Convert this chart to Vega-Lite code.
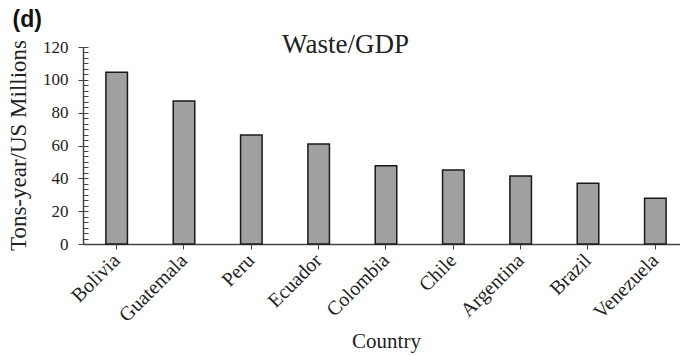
{
  "$schema": "https://vega.github.io/schema/vega-lite/v6.json",
  "autosize": "none",
  "width": 606,
  "height": 197,
  "padding": {"left": 83, "top": 47, "right": 0, "bottom": 112},
  "background": "white",
  "config": {
    "view": {"stroke": null},
    "axis": {"grid": false, "labelColor": "#222", "titleColor": "#222", "domainColor": "#444", "tickColor": "#444", "titleFontWeight": "normal"}
  },
  "data": {
    "values": [
      {"country": "Bolivia", "value": 104.6},
      {"country": "Guatemala", "value": 87.1},
      {"country": "Peru", "value": 66.4},
      {"country": "Ecuador", "value": 60.9},
      {"country": "Colombia", "value": 47.7},
      {"country": "Chile", "value": 45.1},
      {"country": "Argentina", "value": 41.4},
      {"country": "Brazil", "value": 37.0},
      {"country": "Venezuela", "value": 27.8}
    ]
  },
  "resolve": {"axis": {"x": "independent", "y": "independent"}},
  "layer": [
    {
      "mark": {"type": "bar", "fill": "#a0a0a0", "stroke": "#1a1a1a", "strokeWidth": 1.5},
      "encoding": {
        "x": {
          "field": "country",
          "type": "nominal",
          "sort": null,
          "scale": {"paddingInner": 0.68, "paddingOuter": 0.34},
          "axis": {
            "orient": "bottom",
            "title": "Country",
            "titleFont": "Liberation Serif",
            "titleFontSize": 21,
            "titleX": 303,
            "titleY": 103,
            "titleBaseline": "alphabetic",
            "titleAlign": "center",
            "labelFont": "Liberation Serif",
            "labelFontSize": 20,
            "labelAngle": -45,
            "labelAlign": "right",
            "labelBaseline": "middle",
            "labelPadding": 8,
            "tickSize": 5,
            "domainWidth": 1.5
          }
        },
        "y": {
          "field": "value",
          "type": "quantitative",
          "scale": {"domain": [0, 120], "nice": false},
          "axis": {
            "orient": "left",
            "values": [0, 20, 40, 60, 80, 100, 120],
            "title": "Tons-year/US  Millions",
            "titleFont": "Liberation Serif",
            "titleFontSize": 23,
            "titleAngle": -90,
            "titleX": -58,
            "titleY": 98,
            "titleAlign": "center",
            "titleBaseline": "alphabetic",
            "labelFont": "Liberation Serif",
            "labelFontSize": 17,
            "labelPadding": 10,
            "tickSize": 5,
            "domainWidth": 1.5
          }
        }
      }
    },
    {
      "mark": {"type": "bar", "fillOpacity": 0, "strokeOpacity": 0},
      "encoding": {
        "x": {
          "field": "country",
          "type": "nominal",
          "sort": null,
          "axis": {
            "orient": "top",
            "labels": false,
            "ticks": false,
            "domain": false,
            "title": "Waste/GDP",
            "titleFont": "Liberation Serif",
            "titleFontSize": 27,
            "titleX": 262,
            "titleY": 5,
            "titleAlign": "center",
            "titleBaseline": "alphabetic"
          }
        },
        "y": {
          "field": "value",
          "type": "quantitative",
          "axis": {
            "orient": "left",
            "values": [0, 3.333, 6.667, 10, 13.333, 16.667, 20, 23.333, 26.667, 30, 33.333, 36.667, 40, 43.333, 46.667, 50, 53.333, 56.667, 60, 63.333, 66.667, 70, 73.333, 76.667, 80, 83.333, 86.667, 90, 93.333, 96.667, 100, 103.333, 106.667, 110, 113.333, 116.667, 120],
            "labels": false,
            "domain": false,
            "tickSize": -5,
            "title": "(d)",
            "titleFont": "Liberation Sans",
            "titleFontWeight": "bold",
            "titleFontSize": 23,
            "titleColor": "#111",
            "titleAngle": 0,
            "titleX": -71,
            "titleY": -21,
            "titleAlign": "left",
            "titleBaseline": "alphabetic"
          }
        }
      }
    }
  ]
}
